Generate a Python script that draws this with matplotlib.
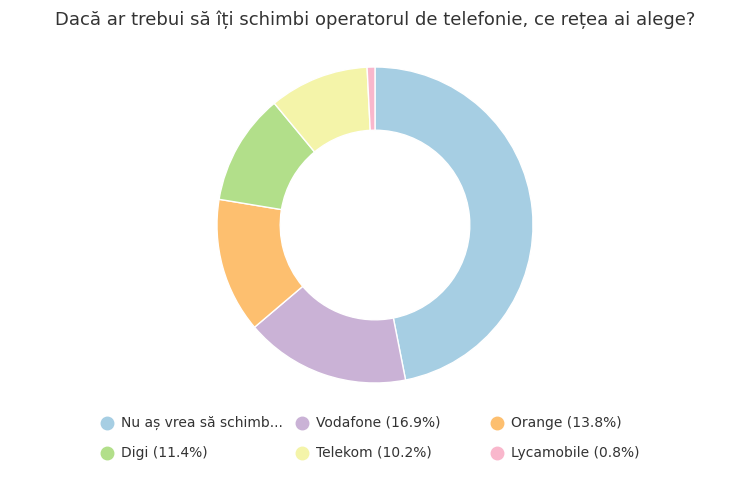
import matplotlib.pyplot as plt
from matplotlib.lines import Line2D

title = "Dacă ar trebui să îți schimbi operatorul de telefonie, ce rețea ai alege?"
operators = ["Nu aș vrea să schimb...", "Vodafone", "Orange", "Digi", "Telekom", "Lycamobile"]
shares = [46.9, 16.9, 13.8, 11.4, 10.2, 0.8]
colors = ["#a6cee3", "#cab2d6", "#fdbf6f", "#b2df8a", "#f4f4a9", "#f9b7cc"]

fig = plt.figure(figsize=(7.5, 4.99), dpi=100)
fig.patch.set_facecolor("white")

ax = fig.add_axes([217 / 750, 116 / 499, 316 / 750, 316 / 499])
ax.pie(shares, colors=colors, startangle=90, counterclock=False, radius=1,
       wedgeprops=dict(width=0.4, edgecolor="white", linewidth=1))
ax.set_xlim(-1, 1)
ax.set_ylim(-1, 1)
ax.set_aspect("equal")
ax.axis("off")

fig.text(0.5, 1 - 20 / 499, title, ha="center", va="center", fontsize=13, color="#333333")

# legend, 3 columns x 2 rows
col_x = [107, 302, 497]
row_y = [423, 453]
for i, (name, val, c) in enumerate(zip(operators, shares, colors)):
    x = col_x[i % 3]
    y = row_y[i // 3]
    label = name if i == 0 else f"{name} ({val}%)"
    fig.add_artist(Line2D([x / 750], [1 - y / 499], marker="o", markersize=9, color=c,
                          linestyle="none", transform=fig.transFigure))
    fig.text((x + 14) / 750, 1 - y / 499, label, ha="left", va="center",
             fontsize=10, color="#333333")

fig.savefig("out.png", dpi=100)
